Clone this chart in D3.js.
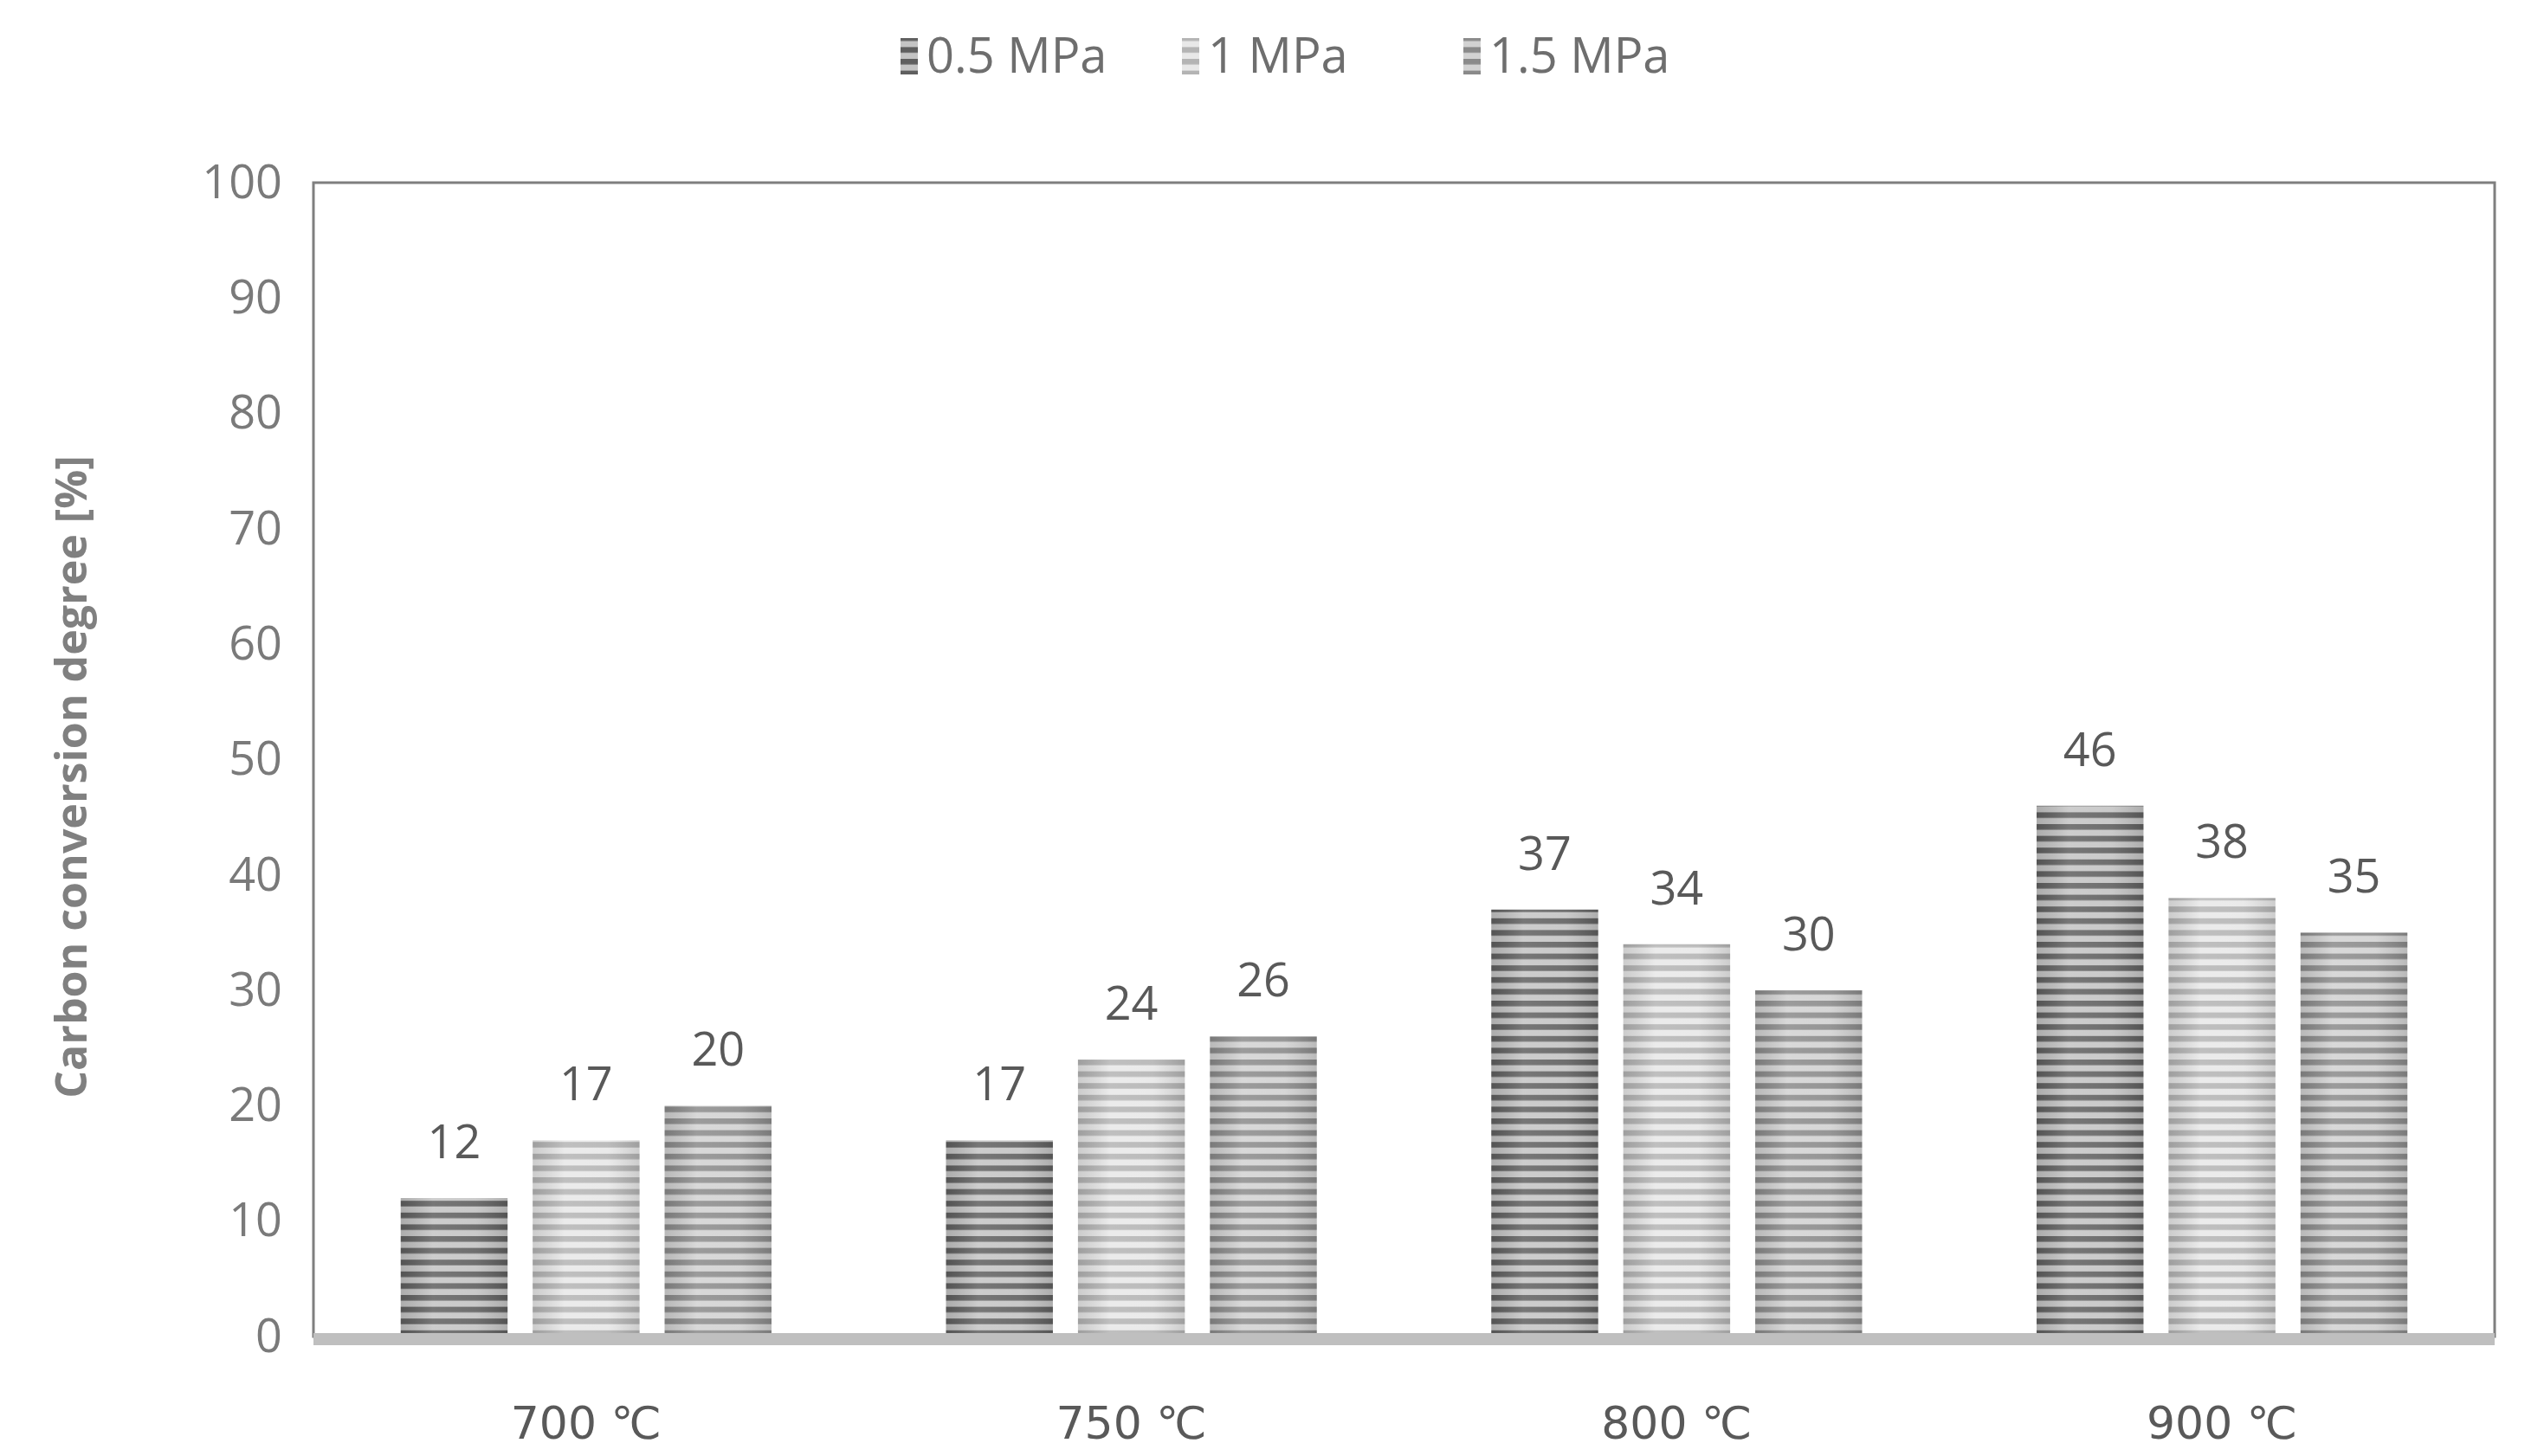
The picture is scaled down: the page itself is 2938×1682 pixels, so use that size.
<!DOCTYPE html>
<html><head><meta charset="utf-8">
<script src="https://cdn.jsdelivr.net/npm/d3@7"></script>
<style>body{margin:0;background:#fff}svg{display:block;font-family:"Open Sans",sans-serif}</style>
</head><body><div id="chart"></div>
<script>
const categories = ['700 \u2103', '750 \u2103', '800 \u2103', '900 \u2103'];
const series = ['0.5 MPa', '1 MPa', '1.5 MPa'];
const values = [
  [12, 17, 37, 46],
  [17, 24, 34, 38],
  [20, 26, 30, 35]
];
const labels = [
  ['12', '17', '37', '46'],
  ['17', '24', '34', '38'],
  ['20', '26', '30', '35']
];
const yTicks = [0, 10, 20, 30, 40, 50, 60, 70, 80, 90, 100];
const stripeDark = ['#5f5f5f', '#b4b4b4', '#8a8a8a'];
const stripeLight = ['#c4c4c4', '#e8e8e8', '#d2d2d2'];

const W = 2938, H = 1682;
const m = {left: 362, right: 57, top: 211, bottom: 138};
const svg = d3.select('#chart').append('svg').attr('width', W).attr('height', H);
const defs = svg.append('defs');

// striped fills, one per series
series.forEach((s, i) => {
  const p = defs.append('pattern').attr('id', 'st' + i)
    .attr('patternUnits', 'userSpaceOnUse').attr('width', 12).attr('height', 13.6);
  p.append('rect').attr('width', 12).attr('height', 13.6).attr('fill', stripeLight[i]);
  p.append('rect').attr('y', 0).attr('width', 12).attr('height', 6.5).attr('fill', stripeDark[i]);
});
const shade = defs.append('linearGradient').attr('id', 'shade');
shade.append('stop').attr('offset', '0%').attr('stop-color', '#000').attr('stop-opacity', 0.12);
shade.append('stop').attr('offset', '30%').attr('stop-color', '#fff').attr('stop-opacity', 0.15);
shade.append('stop').attr('offset', '70%').attr('stop-color', '#fff').attr('stop-opacity', 0.1);
shade.append('stop').attr('offset', '100%').attr('stop-color', '#000').attr('stop-opacity', 0.12);

const x = d3.scaleBand().domain(categories).range([m.left, W - m.right]).padding(0);
const xs = d3.scaleBand().domain(series.map((_, i) => i)).range([0, x.bandwidth() * 0.68]).paddingInner(0.19);
const y = d3.scaleLinear().domain([0, 100]).range([H - m.bottom, m.top]);

// frame
svg.append('rect').attr('x', m.left).attr('y', m.top)
  .attr('width', W - m.left - m.right).attr('height', y(0) - m.top)
  .attr('fill', 'none').attr('stroke', '#7f7f7f').attr('stroke-width', 3);

// y axis labels
const yAxis = svg.append('g').attr('transform', `translate(${m.left},0)`)
  .call(d3.axisLeft(y).tickValues(yTicks).tickSize(0).tickPadding(36));
yAxis.select('.domain').remove();
yAxis.selectAll('text').attr('font-size', 54).attr('fill', '#7a7a7a').attr('font-family', '"Open Sans",sans-serif');

svg.append('text').attr('transform', `translate(100,${(m.top + y(0)) / 2 + 20}) rotate(-90)`)
  .attr('text-anchor', 'middle').attr('font-size', 50).attr('font-weight', 'bold').attr('fill', '#808080')
  .text('Carbon conversion degree [%]');

// bars
series.forEach((s, i) => {
  const g = svg.append('g');
  categories.forEach((c, j) => {
    const bx = x(c) + x.bandwidth() * 0.16 + xs(i);
    g.append('rect').attr('x', bx).attr('y', y(values[i][j]))
      .attr('width', xs.bandwidth()).attr('height', y(0) - y(values[i][j]))
      .attr('fill', `url(#st${i})`);
    g.append('rect').attr('x', bx).attr('y', y(values[i][j]))
      .attr('width', xs.bandwidth()).attr('height', y(0) - y(values[i][j]))
      .attr('fill', 'url(#shade)');
    g.append('text').attr('x', bx + xs.bandwidth() / 2).attr('y', y(values[i][j]) - 46)
      .attr('text-anchor', 'middle').attr('font-size', 54).attr('fill', '#595959')
      .text(labels[i][j]);
  });
});

// baseline
svg.append('line').attr('x1', m.left).attr('x2', W - m.right).attr('y1', y(0) + 3).attr('y2', y(0) + 3)
  .attr('stroke', '#bfbfbf').attr('stroke-width', 14);

// x labels
svg.append('g').selectAll('text').data(categories).join('text')
  .attr('x', d => x(d) + x.bandwidth() / 2).attr('y', 1662)
  .attr('text-anchor', 'middle').attr('font-size', 56).attr('fill', '#595959')
  .attr('font-family', '"DejaVu Sans",sans-serif').attr('font-size', 52)
  .text(d => d);

// legend
const legX = [1040, 1365, 1690];
const leg = svg.append('g');
series.forEach((s, i) => {
  leg.append('rect').attr('x', legX[i]).attr('y', 44).attr('width', 20).attr('height', 42)
    .attr('fill', `url(#st${i})`);
  leg.append('text').attr('x', legX[i] + 30).attr('y', 84).attr('font-size', 56).attr('fill', '#6e6e6e').text(s);
});
</script></body></html>
